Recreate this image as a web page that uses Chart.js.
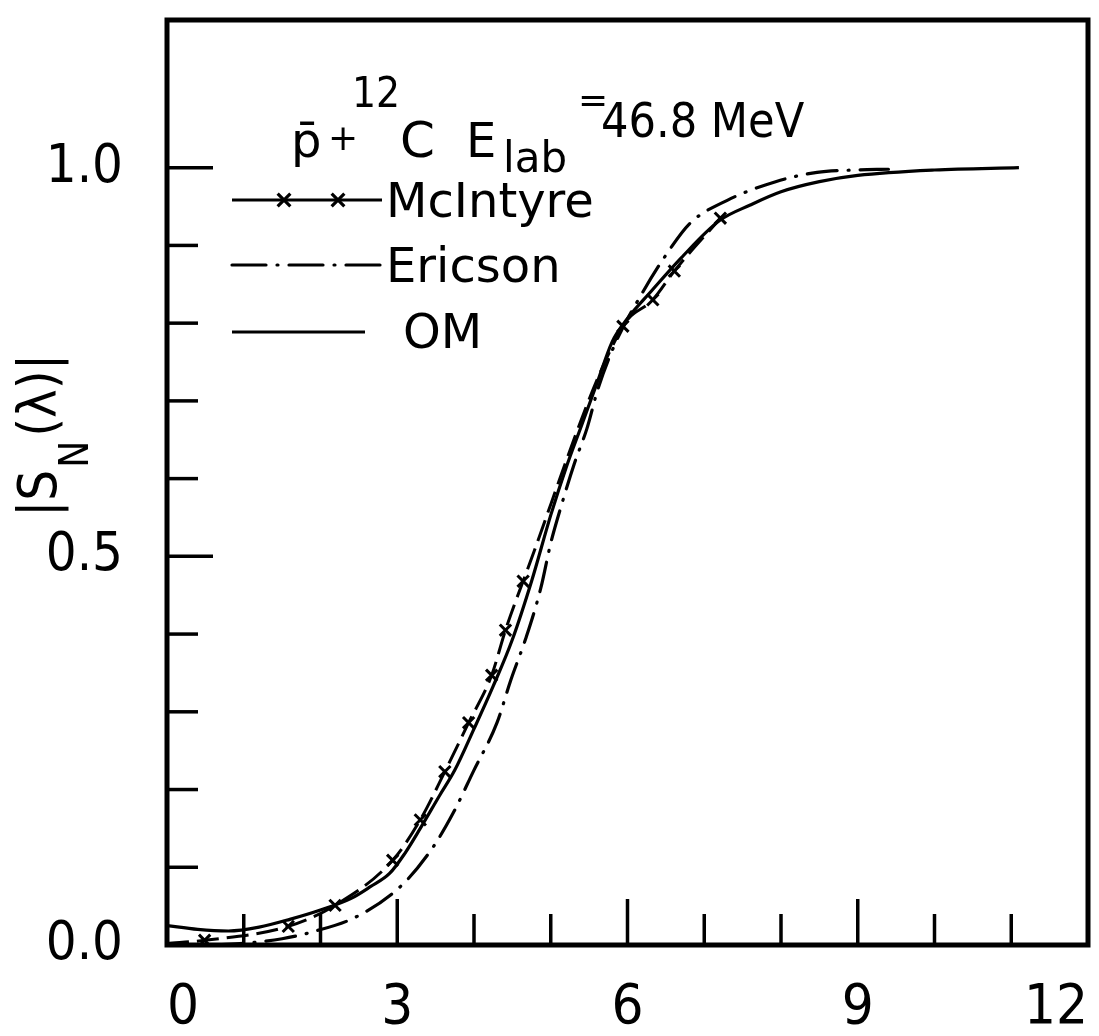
<!DOCTYPE html>
<html>
<head>
<meta charset="utf-8">
<script src="https://cdn.jsdelivr.net/npm/chart.js@4.4.1/dist/chart.umd.min.js"></script>
<style>
  html, body { margin: 0; padding: 0; background: #fff; }
  #wrap { width: 1099px; height: 1036px; position: relative; }
</style>
</head>
<body>
<div id="wrap"><canvas id="chart"></canvas></div>
<script>
/* values: x = l, y = |S_N(lambda)| */
const omX = [0, 0.4, 0.8, 1.2, 1.6, 2.0, 2.4, 2.65, 2.9, 3.1, 3.3, 3.55, 3.75, 4.0, 4.25, 4.5, 4.75, 5.0, 5.2, 5.4, 5.6, 5.8, 6.0, 6.3, 6.7, 7.2, 7.6, 8.0, 8.5, 9.0, 10.0, 11.1];
const omY = [0.025, 0.020, 0.018, 0.023, 0.033, 0.045, 0.060, 0.075, 0.092, 0.118, 0.150, 0.192, 0.225, 0.278, 0.333, 0.393, 0.468, 0.553, 0.614, 0.668, 0.722, 0.776, 0.806, 0.840, 0.884, 0.932, 0.952, 0.969, 0.982, 0.990, 0.997, 1.0];

const ericsonX = [0.6, 1.1, 1.5, 1.9, 2.46, 3.05, 3.46, 3.73, 4.0, 4.3, 4.48, 4.68, 4.87, 5.0, 5.14, 5.31, 5.47, 5.62, 5.85, 6.17, 6.51, 6.82, 7.3, 7.93, 8.47, 8.95, 9.4];
const ericsonY = [0.0, 0.003, 0.008, 0.017, 0.036, 0.076, 0.125, 0.170, 0.225, 0.286, 0.341, 0.396, 0.459, 0.517, 0.566, 0.620, 0.664, 0.717, 0.776, 0.835, 0.889, 0.929, 0.958, 0.982, 0.994, 0.997, 0.998];

const mcintyreX = [0.0, 0.49, 1.58, 2.19, 2.94, 3.30, 3.62, 3.93, 4.23, 4.41, 4.64, 5.94, 6.33, 6.61, 7.21];
const mcintyreY = [0.002, 0.006, 0.024, 0.051, 0.109, 0.161, 0.223, 0.286, 0.347, 0.405, 0.468, 0.796, 0.830, 0.867, 0.935];

const xTickLabels = [0, 3, 6, 9, 12];
const xTickMinor = [1, 2, 4, 5, 7, 8, 10, 11];
const yTickLabels = [0, 0.5, 1.0];
const yTickMinor = [0.1, 0.2, 0.3, 0.4, 0.6, 0.7, 0.8, 0.9];

const NARROW = '"Liberation Sans Narrow", "DejaVu Sans Condensed", "Liberation Sans", sans-serif';
const WIDE = '"DejaVu Sans", "Liberation Sans", sans-serif';

const pts = (xs, ys) => xs.map((v, i) => ({ x: v, y: ys[i] }));

/* inward ticks, box frame, legend and annotation */
const decorations = {
  id: 'decorations',
  afterDraw(chart) {
    const { ctx, chartArea: a, scales: { x, y } } = chart;
    ctx.save();
    ctx.strokeStyle = '#000';
    ctx.fillStyle = '#000';

    const line = (x1, y1, x2, y2) => { ctx.beginPath(); ctx.moveTo(x1, y1); ctx.lineTo(x2, y2); ctx.stroke(); };

    ctx.lineWidth = 3.5;
    xTickLabels.filter(v => v > 0 && v < 12).forEach(v => { const p = x.getPixelForValue(v); line(p, a.bottom, p, a.bottom - 46); });
    xTickMinor.forEach(v => { const p = x.getPixelForValue(v); line(p, a.bottom, p, a.bottom - 31); });
    yTickLabels.filter(v => v > 0).forEach(v => { const p = y.getPixelForValue(v); line(a.left, p, a.left + 46, p); });
    yTickMinor.forEach(v => { const p = y.getPixelForValue(v); line(a.left, p, a.left + 31, p); });

    ctx.lineWidth = 5;
    ctx.strokeRect(a.left, a.top, a.right - a.left, a.bottom - a.top);

    // legend
    ctx.lineWidth = 3.2;
    line(232, 200, 382, 200);
    [284, 338].forEach(px => Chart.helpers.drawPoint(ctx, { pointStyle: 'crossRot', radius: 9, borderWidth: 3 }, px, 200));
    ctx.setLineDash([34, 11, 1, 11]);
    ctx.lineCap = 'round';
    line(232, 265, 381, 265);
    ctx.setLineDash([]);
    ctx.lineCap = 'butt';
    line(232, 332, 365, 332);

    ctx.textBaseline = 'alphabetic';
    ctx.textAlign = 'left';
    ctx.font = '48px ' + WIDE;
    ctx.fillText('McIntyre', 386, 217);
    ctx.fillText('Ericson', 386, 282);
    ctx.fillText('OM', 403, 348);

    // reaction label
    const runs = [
      ['p\u0304', '48px ' + WIDE, 291, 157],
      ['+', '36px ' + WIDE, 328, 150],
      ['12', '42px ' + NARROW, 352, 107],
      ['C', '50px ' + WIDE, 400, 157],
      ['E', '48px ' + WIDE, 466, 157],
      ['lab', '42px ' + WIDE, 503, 172],
      ['=', '36px ' + WIDE, 578, 112],
      ['46.8 MeV', '48px ' + NARROW, 601, 137]
    ];
    runs.forEach(([t, f, px, py]) => { ctx.font = f; ctx.fillText(t, px, py); });

    // y axis title, rotated
    ctx.translate(56, 517);
    ctx.rotate(-Math.PI / 2);
    ctx.font = '54px ' + NARROW;
    ctx.fillText('|S', 0, 0);
    let w = ctx.measureText('|S').width;
    ctx.font = '40px ' + NARROW;
    ctx.fillText('N', w + 2, 32);
    w += ctx.measureText('N').width + 6;
    ctx.font = '54px ' + NARROW;
    ctx.fillText('(\u03bb)|', w, 0);
    ctx.restore();
  }
};

new Chart(document.getElementById('chart'), {
  type: 'line',
  data: {
    datasets: [
      {
        label: 'McIntyre',
        data: pts(mcintyreX, mcintyreY),
        borderColor: '#000',
        borderWidth: 3,
        borderDash: [22, 8],
        pointStyle: 'crossRot',
        pointRadius: mcintyreX.map((v, i) => i === 0 ? 0 : 8),
        pointBorderWidth: 3,
        pointBorderColor: '#000',
        cubicInterpolationMode: 'monotone',
        fill: false
      },
      {
        label: 'Ericson',
        data: pts(ericsonX, ericsonY),
        borderColor: '#000',
        borderWidth: 3.2,
        borderDash: [30, 11, 1, 11],
        borderCapStyle: 'round',
        pointRadius: 0,
        cubicInterpolationMode: 'monotone',
        fill: false
      },
      {
        label: 'OM',
        data: pts(omX, omY),
        borderColor: '#000',
        borderWidth: 3.2,
        pointRadius: 0,
        cubicInterpolationMode: 'monotone',
        fill: false
      }
    ]
  },
  options: {
    responsive: true,
    maintainAspectRatio: false,
    animation: false,
    devicePixelRatio: 1,
    layout: { padding: { top: 20, right: 6, left: 0, bottom: 0 }},
    plugins: { legend: { display: false }, tooltip: { enabled: false }},
    scales: {
      x: {
        type: 'linear',
        min: 0,
        max: 12,
        grid: { display: false },
        border: { display: false },
        afterBuildTicks: s => { s.ticks = xTickLabels.map(v => ({ value: v })); },
        afterFit: s => { s.height = 91; s.paddingLeft = 0; s.paddingRight = 0; },
        ticks: { align: 'inner', padding: 22, maxRotation: 0, autoSkip: false, color: '#000', font: { family: NARROW, size: 56 }}
      },
      y: {
        type: 'linear',
        min: 0,
        max: 1.19,
        grid: { display: false },
        border: { display: false },
        afterBuildTicks: s => { s.ticks = yTickLabels.map(v => ({ value: v })); },
        afterFit: s => { s.width = 167; s.paddingTop = 0; s.paddingBottom = 0; },
        ticks: { padding: 36, color: '#000', font: { family: NARROW, size: 54 }, callback: v => v.toFixed(1) }
      }
    }
  },
  plugins: [decorations]
});
</script>
</body>
</html>
